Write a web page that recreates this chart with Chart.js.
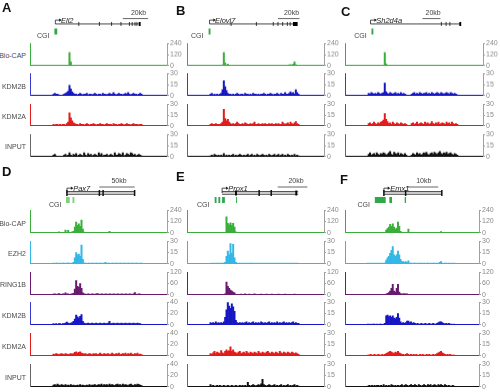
<!DOCTYPE html>
<html><head><meta charset="utf-8">
<script src="https://cdn.jsdelivr.net/npm/chart.js@4.4.1/dist/chart.umd.min.js"></script>
<style>
html,body{margin:0;padding:0;background:#fff;}
body{width:500px;height:392px;overflow:hidden;position:relative;font-family:"Liberation Sans",Arial,sans-serif;}
canvas{position:absolute;}
.t{position:absolute;white-space:nowrap;line-height:1;}
</style></head><body>
<script>
// ---------------- DATA (signal per genomic bin, 67 bins per region) ----------------
const N = 67;
const TOP_TRACKS = ['Bio-CAP','KDM2B','KDM2A','INPUT'];
const BOTTOM_TRACKS = ['Bio-CAP','EZH2','RING1B','KDM2B','KDM2A','INPUT'];
const MAX_ABC = [240,30,30,30];
const MAX_D = [240,30,120,40,40,40];
const MAX_E = [240,30,120,30,30,30];
const MAX_F = [240,30,120,30,30,30];

// Panel A (Ell2)
const A_bioCAP = [0,0,1,0,0,0,0,0,0,0, 0,5,140,40,4,2,0,1,0,0, 0,0,0,0,1,0,0,0,0,0, 0,0,0,0,1,0,0,0,0,0, 0,0,0,0,0,0,0,1,0,0, 0,0,0,0,0,0,0,0,0,0, 0,0,0,0,0,0,0];
const A_KDM2B = [2,3,2,2,1,0,0,1,2,3, 4,6,14,9,5,3,2,2,1,2, 3,2,1,2,2,3,1,2,2,1, 2,3,2,1,2,2,1,3,2,2, 1,2,3,2,2,4,2,1,2,3, 2,2,1,2,3,2,4,2,1,2, 3,2,2,1,2,3,2];
const A_KDM2A = [2,1,2,2,1,2,1,2,2,1, 3,5,18,11,7,4,3,2,2,1, 3,2,2,1,2,3,2,1,2,2, 3,2,1,2,2,3,2,2,1,2, 3,2,2,2,1,3,2,2,1,2, 2,3,2,1,2,3,2,2,1,2, 3,2,2,2,1,2,2];
const A_INPUT = [2,3,1,0,0,0,0,0,2,3, 1,2,5,2,1,3,2,4,1,2, 3,2,1,5,2,1,4,2,3,1, 2,3,2,1,5,2,4,1,2,2, 3,1,2,3,2,1,5,2,2,4, 3,2,5,1,2,4,3,2,5,4, 2,3,1,2,3,2,1];
// Panel B (Elovl7)
const B_bioCAP = [0,0,0,0,0,0,0,0,1,8, 140,30,3,15,2,0,0,0,1,0, 0,0,0,0,0,0,0,0,1,0, 0,0,0,0,0,0,0,0,0,0, 1,0,0,0,0,0,0,0,0,0, 0,0,0,0,0,0,0,1,2,8, 12,6,15,40,12,4,2];
const B_KDM2B = [2,3,1,2,1,2,1,2,3,8, 20,12,7,3,2,2,1,2,1,2, 3,2,1,2,2,1,3,2,2,1, 2,1,3,2,2,1,2,1,2,2, 3,2,1,2,2,3,2,1,2,2, 3,2,1,3,2,2,4,2,2,3, 5,3,4,2,8,4,2];
const B_KDM2A = [2,3,2,2,3,2,2,2,3,5, 23,10,7,9,5,3,2,3,2,3, 5,3,2,2,3,2,4,3,2,2, 3,2,3,5,2,2,3,2,2,3, 2,3,2,2,3,2,3,2,2,3, 2,3,2,2,5,3,2,3,4,2, 5,3,2,4,6,3,2];
const B_INPUT = [1,2,1,3,2,1,2,1,2,1, 4,1,2,1,2,1,2,3,1,2, 1,2,3,2,1,2,1,2,3,1, 2,3,1,2,1,3,2,1,2,3, 2,1,2,1,3,2,1,2,3,1, 2,3,1,2,3,1,2,1,3,2, 1,2,1,3,1,2,1];
// Panel C (Sh2d4a)
const C_bioCAP = [0,0,0,0,0,0,0,0,2,0, 0,3,140,20,2,0,0,3,0,0, 0,0,0,0,0,0,0,0,0,0, 0,0,0,0,0,0,0,0,1,0, 0,0,0,0,0,0,0,0,0,0, 0,0,1,0,0,0,0,0,0,0, 0,0,0,0,0,0,0];
const C_KDM2B = [3,2,4,3,2,3,2,4,3,2, 3,4,17,5,3,2,4,3,2,3, 4,2,3,2,4,2,3,2,1,0, 0,0,2,3,4,2,3,2,4,3, 2,3,3,4,2,3,2,4,3,2, 3,4,3,2,4,3,2,3,4,3, 2,4,3,2,3,2,1];
const C_KDM2A = [3,4,2,3,5,3,2,4,3,5, 6,8,17,9,6,3,4,2,5,3, 2,4,3,2,4,3,2,3,2,0, 0,0,3,4,2,3,5,2,3,4, 3,2,5,3,4,2,3,6,3,2, 4,3,5,2,3,4,3,2,5,3, 4,2,5,3,2,3,2];
const C_INPUT = [3,5,2,3,4,2,5,3,2,4, 3,5,4,2,3,5,7,3,2,6, 4,3,5,2,4,3,2,4,2,0, 0,0,2,4,3,2,5,3,4,2, 3,5,4,6,3,2,4,5,3,6, 4,3,5,7,4,3,5,4,6,3, 4,5,3,2,4,3,2];
// Panel D (Pax7)
const D_bioCAP = [5,3,4,4,10,4,3,5,4,30, 5,25,6,5,10,15,60,115,80,95, 70,134,40,8,5,4,3,5,4,3, 4,5,3,4,5,3,4,3,5,4, 3,5,15,4,3,5,4,3,4,5, 3,4,3,5,4,3,4,5,3,4, 3,5,4,3,4,5,3];
const D_EZH2 = [1,0,1,1,0,1,0,1,1,0, 1,1,1,0,1,2,8,15,12,13, 10,25,6,1,1,0,1,1,0,1, 1,0,1,1,0,1,1,0,1,2, 0,1,1,0,1,1,0,1,1,0, 1,1,0,1,1,0,1,1,0,1, 1,0,1,1,0,1,1];
const D_RING1B = [4,5,3,4,6,4,3,5,4,10, 4,5,3,4,5,8,30,75,45,40, 60,35,10,5,4,3,5,4,3,5, 4,3,5,6,4,3,5,4,3,5, 4,3,5,4,3,5,4,3,5,4, 3,5,4,3,5,4,3,5,4,3, 5,12,4,3,5,4,3];
const D_KDM2B = [2,1,2,1,2,2,1,2,2,3, 5,3,2,3,4,6,10,17,14,12, 15,18,6,3,2,2,3,2,2,3, 2,2,3,2,2,3,2,2,3,2, 2,3,6,2,2,3,2,2,3,2, 2,3,2,2,3,2,2,3,2,2, 3,2,2,3,2,2,1];
const D_KDM2A = [3,2,4,3,2,3,4,3,2,4, 3,2,3,4,3,4,6,7,5,6, 7,5,4,3,4,2,3,4,3,2, 4,3,4,2,3,5,3,2,4,3, 3,4,2,3,5,3,2,4,3,5, 2,3,4,3,5,2,4,3,5,3, 2,4,3,5,2,3,2];
const D_INPUT = [3,4,2,5,3,2,4,3,2,4, 2,3,2,4,2,3,2,2,3,2, 4,2,3,2,2,3,2,4,2,3, 3,4,2,3,4,3,5,2,4,3, 4,2,5,3,4,3,2,4,5,3, 4,2,5,3,4,3,2,4,5,3, 2,4,3,5,4,3,2];
// Panel E (Prox1)
const E_bioCAP = [0,0,0,0,0,0,0,0,0,0, 0,2,170,100,85,105,80,100,60,10, 1,0,0,0,0,0,0,0,0,0, 0,5,0,0,0,0,0,0,0,0, 0,0,0,0,0,0,0,0,0,0, 0,0,0,0,0,0,0,0,0,0, 0,0,0,0,0,0,0];
const E_EZH2 = [0,1,0,1,0,1,0,1,0,1, 1,2,10,17,12,27,14,26,8,2, 1,0,1,0,1,0,1,0,1,0, 1,1,0,1,0,1,0,1,0,1, 0,1,0,1,0,1,0,1,0,1, 0,1,0,1,0,1,0,1,0,1, 0,1,0,1,0,1,0];
const E_RING1B = [2,1,2,1,2,1,3,2,1,2, 3,5,67,45,35,25,20,15,10,3, 2,3,2,4,2,3,5,2,3,4, 2,3,2,5,3,2,3,2,4,3, 2,3,4,2,3,2,4,3,2,3, 2,4,3,2,3,2,4,3,2,3, 2,3,2,4,3,2,1];
const E_KDM2B = [3,2,3,2,4,2,3,2,3,2, 4,10,20,32,25,22,28,24,18,6, 3,2,3,2,3,2,3,4,2,3, 2,3,4,2,3,2,3,2,4,3, 2,3,2,3,4,2,3,2,3,2, 4,2,3,2,3,4,2,3,2,3, 2,3,4,2,3,2,2];
const E_KDM2A = [3,2,4,6,3,5,4,3,7,4, 3,6,8,6,7,12,6,8,5,4, 3,5,6,3,4,5,3,6,4,3, 5,4,3,5,4,3,6,4,3,5, 4,3,5,6,4,3,5,4,3,5, 4,3,6,4,3,5,4,3,5,4, 3,5,4,3,4,3,2];
const E_INPUT = [3,1,2,1,1,2,1,2,1,1, 2,1,1,2,1,1,2,1,1,2, 1,1,2,1,2,1,2,1,6,2, 1,2,3,2,1,2,3,2,4,10, 3,2,1,2,3,2,1,2,3,1, 2,1,2,3,1,2,1,2,3,1, 2,1,2,3,1,2,1];
// Panel F (Emx1)
const F_bioCAP = [0,0,0,0,0,0,0,0,0,0, 0,0,0,2,30,45,60,90,70,95, 60,40,50,115,70,15,2,1,0,0, 3,40,2,0,0,0,0,0,0,0, 0,0,0,0,0,0,0,0,0,0, 0,0,0,0,0,3,12,3,0,0, 0,0,0,0,0,0,0];
const F_EZH2 = [1,0,1,0,1,0,1,0,1,0, 1,0,1,1,5,8,10,14,18,23, 12,10,12,17,12,6,3,3,2,3, 2,4,1,1,0,1,1,0,1,0, 1,1,0,1,0,1,1,0,1,0, 1,1,0,1,0,2,3,1,0,1, 1,0,1,0,1,0,1];
const F_RING1B = [2,3,2,1,2,3,2,1,2,3, 2,1,2,3,4,8,12,20,35,55, 20,15,35,55,15,6,4,5,6,4, 5,3,2,3,2,1,2,3,2,1, 2,3,2,3,2,1,2,3,2,3, 2,1,3,2,1,3,2,3,1,2, 3,2,2,3,2,1,2];
const F_KDM2B = [1,0,1,0,1,1,0,1,0,1, 1,0,1,2,12,13,11,12,10,12, 9,8,10,15,9,4,2,3,2,3, 5,5,3,4,2,3,2,1,2,1, 1,2,1,1,2,1,1,2,1,1, 2,1,1,2,3,4,4,3,2,1, 2,1,2,1,1,0,1];
const F_KDM2A = [1,1,2,1,1,2,1,1,2,1, 1,2,1,2,3,4,5,6,5,4, 3,5,4,6,4,3,2,2,1,2, 3,2,1,2,1,2,1,2,1,1, 2,1,2,1,1,2,1,2,1,1, 2,1,2,3,4,5,6,4,3,2, 1,2,1,2,1,1,1];
const F_INPUT = [1,2,1,2,1,2,1,2,2,1, 2,1,3,1,2,1,2,1,3,2, 1,2,1,2,1,2,3,1,2,3, 2,1,2,3,2,2,3,2,1,3, 2,1,2,3,2,1,3,2,3,1, 2,3,2,1,3,2,3,2,1,3, 2,1,2,1,1,2,1];

// Gene annotations (in bin units of the same region)
const GENE_A = {name:'Ell2',   tss:11,   end:56,   exons:[23.5,34.5,41,46,50.5,52,53.5,54.5], blocks:[[55.5,56.5]], scale:[47,60.5], scaleText:'20kb', cgi:[[10.5,12]]};
const GENE_B = {name:'Elovl7', tss:9.5,  end:56,   exons:[21,34.5,43.5,46,48.5,51,52.5], blocks:[[54,56.5]], scale:[46,57.5], scaleText:'20kb', cgi:[[9,10]]};
const GENE_C = {name:'Sh2d4a', tss:11,   end:58.5, exons:[48.5,51,53], blocks:[[58,59]], scale:[38.5,48], scaleText:'20kb', cgi:[[11.5,12.5]]};
const GENE_D = {name:'Pax7',   tss:17,   end:53.5, exons:[17,34.5,36.5,53.5], blocks:[], scale:[34.5,53.5], scaleText:'50kb', cgi:[[16.5,18.5],[20,21]]};
const GENE_E = {name:'Prox1',  tss:16,   end:57,   exons:[36,42.5], blocks:[[23,24],[55.5,56.5]], scale:[46,62], scaleText:'20kb', cgi:[[12,13],[14,15],[16,17.5],[23.5,24]]};
const GENE_F = {name:'Emx1',   tss:18.5, end:50.5, exons:[18.5,30.5,50.5], blocks:[], scale:[31,48.5], scaleText:'10kb', cgi:[[13.5,19.5],[21.5,23],[30,30.75]]};

// ---------------- STYLE / LAYOUT ----------------
const FONT = '"Liberation Sans", Arial, sans-serif';
const COLORS = {'Bio-CAP':'#3aae3a','EZH2':'#33b7e6','RING1B':'#6a1a6e','KDM2B':'#1616c4','KDM2A':'#e31b1b','INPUT':'#111111'};
const LEFTLINE = {'Bio-CAP':'#3aae3a','EZH2':'#33b7e6','RING1B':'#6a1a6e','KDM2B':'#3a3ad0','KDM2A':'#e31b1b','INPUT':'#666666'};
const ROWS = {
  top:{firstTop:42, step:30.4, h:24.5, annoTop:0, annoBottom:41, lineY:25, arrowY:20, scaleY:18, scaleTextY:12, cgiY:35, thick:false},
  bottom:{firstTop:209, step:30.8, h:25, annoTop:164, annoBottom:210, lineY:195, arrowY:188.5, scaleY:187, scaleTextY:180, cgiY:204, thick:true}
};
const PANELS = [
  {letter:'A', lx:2,   ly:0.5, left:30,  w:134, row:'top', names:TOP_TRACKS, max:MAX_ABC, data:[A_bioCAP,A_KDM2B,A_KDM2A,A_INPUT], gene:GENE_A, cgiColor:'#2fa84a'},
  {letter:'B', lx:176, ly:3.5, left:187, w:134, row:'top', names:TOP_TRACKS, max:MAX_ABC, data:[B_bioCAP,B_KDM2B,B_KDM2A,B_INPUT], gene:GENE_B, cgiColor:'#2fa84a'},
  {letter:'C', lx:341, ly:4.5, left:345, w:135, row:'top', names:TOP_TRACKS, max:MAX_ABC, data:[C_bioCAP,C_KDM2B,C_KDM2A,C_INPUT], gene:GENE_C, cgiColor:'#2fa84a'},
  {letter:'D', lx:2,   ly:165, left:30,  w:134, row:'bottom', names:BOTTOM_TRACKS, max:MAX_D, data:[D_bioCAP,D_EZH2,D_RING1B,D_KDM2B,D_KDM2A,D_INPUT], gene:GENE_D, cgiColor:'#7fcf7f'},
  {letter:'E', lx:176, ly:170, left:187, w:134, row:'bottom', names:BOTTOM_TRACKS, max:MAX_E, data:[E_bioCAP,E_EZH2,E_RING1B,E_KDM2B,E_KDM2A,E_INPUT], gene:GENE_E, cgiColor:'#2fa84a'},
  {letter:'F', lx:340, ly:173, left:345, w:131, row:'bottom', names:BOTTOM_TRACKS, max:MAX_F, data:[F_bioCAP,F_EZH2,F_RING1B,F_KDM2B,F_KDM2A,F_INPUT], gene:GENE_F, cgiColor:'#2fa84a'}
];

function txt(s, x, y, o={}) {
  const d = document.createElement('div');
  d.className = 't'; d.textContent = s;
  d.style.fontSize = (o.size||7)+'px';
  d.style.color = o.color||'#444';
  if (o.italic) d.style.fontStyle = 'italic';
  if (o.bold) d.style.fontWeight = 'bold';
  d.style.left = x+'px'; d.style.top = y+'px';
  const tx = o.align==='right' ? '-100%' : o.align==='center' ? '-50%' : '0';
  const ty = o.noCenter ? '0' : '-50%';
  d.style.transform = `translate(${tx},${ty})`;
  document.body.appendChild(d);
}

function mkCanvas(x, y, w, h) {
  const c = document.createElement('canvas');
  c.width = w; c.height = h;
  c.style.left = x+'px'; c.style.top = y+'px';
  c.style.width = w+'px'; c.style.height = h+'px';
  document.body.appendChild(c);
  return c;
}

function trackChart(p, idx) {
  const row = ROWS[p.row];
  const top = row.firstTop + row.step*idx;
  const h = row.h;
  const name = p.names[idx];
  const max = p.max[idx];
  const col = COLORS[name];
  const cv = mkCanvas(p.left-1, top-4, 1+p.w+3+24, h+8);
  new Chart(cv, {
    type:'bar',
    data:{datasets:[{data:p.data[idx].map((v,i)=>({x:i,y:v})), backgroundColor:col, borderWidth:0, barPercentage:1, categoryPercentage:1, xAxisID:'x', yAxisID:'y'}]},
    options:{
      responsive:false, animation:false, devicePixelRatio:1,
      layout:{padding:{left:1,right:0,top:4,bottom:4}},
      plugins:{legend:{display:false}, tooltip:{enabled:false}},
      scales:{
        x:{type:'linear', min:-0.5, max:N+1, grid:{display:false}, ticks:{display:false}, border:{display:true,color:col,width:1}, afterFit:s=>{s.height=0;}},
        y:{type:'linear', position:'right', min:0, max:max,
           ticks:{stepSize:max/2, autoSkip:false, font:{size:7,family:FONT}, color:'#8a8a8a', padding:1},
           grid:{display:true, drawOnChartArea:false, drawTicks:true, tickLength:2, color:'#a0a0a0'},
           border:{display:true,color:'#a0a0a0',width:1}, afterFit:s=>{s.width=24;}},
        yl:{type:'linear', position:'left', min:0, max:max, ticks:{display:false}, grid:{display:false},
            border:{display:true,color:LEFTLINE[name],width:1}, afterFit:s=>{s.width=0;}}
      }
    }
  });
  if (p.left < 100) txt(name, 26, top + h/2 + 1, {align:'right', color:'#4a4a4a'});
}

function annoChart(p) {
  const row = ROWS[p.row];
  const g = p.gene;
  const W = 1+p.w+3, H = row.annoBottom-row.annoTop;
  const cv = mkCanvas(p.left-1, row.annoTop, W, H);
  const ppu = (p.w+3)/(N+1.5);
  const px = u => p.left + (u+0.5)*ppu;
  const ds = [];
  const seg = (pairs, y) => { const d=[]; pairs.forEach(([a,b])=>{d.push({x:a,y:y},{x:b,y:y},{x:(a+b)/2,y:null});}); return d; };
  if (row.thick) {
    ds.push({data:[{x:g.tss,y:row.lineY},{x:g.end,y:row.lineY}], borderColor:'#555', borderWidth:4, order:5});
    ds.push({data:[{x:g.tss,y:row.lineY},{x:g.end,y:row.lineY}], borderColor:'#c9c9c9', borderWidth:2.2, order:4});
  } else {
    ds.push({data:[{x:g.tss,y:row.lineY},{x:g.end,y:row.lineY}], borderColor:'#333', borderWidth:0.9, order:5});
  }
  ds.push({data:g.exons.map(e=>({x:e,y:row.lineY})), showLine:false, pointStyle:'line', rotation:90,
           pointRadius:row.thick?3:2, pointBorderColor:'#111', pointBorderWidth:row.thick?1.5:0.8, order:2});
  if (g.blocks.length) ds.push({data:seg(g.blocks,row.lineY), borderColor:'#000', borderWidth:row.thick?5:4, spanGaps:false, order:1});
  const ah = row.thick?2.6:2.5;
  ds.push({data:[{x:g.tss,y:row.lineY},{x:g.tss,y:row.arrowY},{x:g.tss+ah,y:row.arrowY}], borderColor:'#222', borderWidth:0.8,
           pointRadius:c=>c.dataIndex===2?1.8:0, pointStyle:'triangle', rotation:90, pointBackgroundColor:'#222', pointBorderWidth:0, order:1});
  ds.push({data:[{x:g.scale[0],y:row.scaleY},{x:g.scale[1],y:row.scaleY}], borderColor:'#555', borderWidth:0.9, order:1});
  ds.push({data:seg(g.cgi,row.cgiY), borderColor:p.cgiColor, borderWidth:6, spanGaps:false, order:1});
  ds.forEach(d=>{ if(d.pointRadius===undefined) d.pointRadius=0; d.borderCapStyle='butt'; d.tension=0; });
  new Chart(cv, {
    type:'line',
    data:{datasets:ds},
    options:{
      responsive:false, animation:false, devicePixelRatio:1,
      layout:{padding:{left:1,right:0,top:0,bottom:0}},
      plugins:{legend:{display:false}, tooltip:{enabled:false}},
      scales:{
        x:{type:'linear', min:-0.5, max:N+1, display:false},
        y:{type:'linear', min:row.annoTop, max:row.annoBottom, reverse:true, display:false}
      }
    }
  });
  txt(g.name, px(g.tss+ah)+3, row.arrowY+0.5, {size:7.5, italic:true, color:'#222'});
  txt(g.scaleText, (px(g.scale[0])+px(g.scale[1]))/2, row.scaleTextY, {align:'center', color:'#444'});
  txt('CGI', px(g.cgi[0][0])-2.5, row.cgiY, {align:'right', color:'#444'});
}

PANELS.forEach(p => {
  p.names.forEach((_,i) => trackChart(p,i));
  annoChart(p);
  txt(p.letter, p.lx, p.ly, {size:13, bold:true, color:'#111', noCenter:true});
});
</script>
</body></html>
